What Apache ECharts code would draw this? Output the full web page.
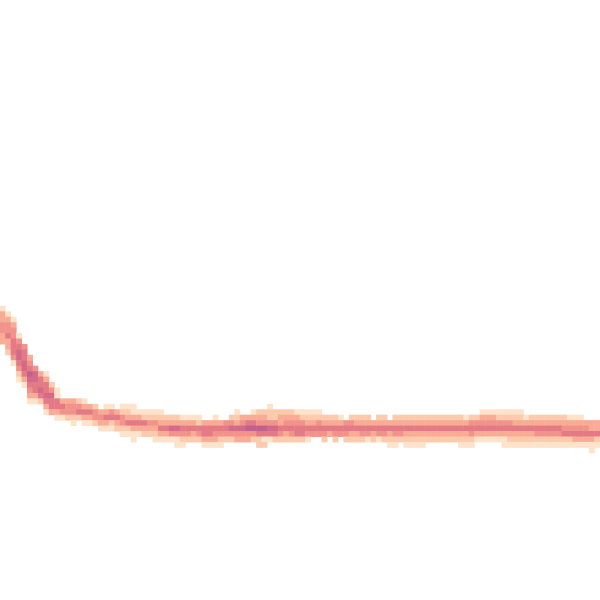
<!DOCTYPE html>
<html>
<head>
<meta charset="utf-8">
<script src="https://cdn.jsdelivr.net/npm/echarts@6/dist/echarts.min.js"></script>
<style>html,body{margin:0;padding:0;background:#fff;}#chart{width:600px;height:600px;}</style>
</head>
<body>
<div id="chart"></div>
<script>
// Density bins: for each column, first occupied row (from top) and the density levels down the column
const colStart = [
  56,57,58,61,63,65,67,68,68,70,
  71,73,73,73,73,73,74,74,75,74,
  74,75,74,74,74,75,75,75,75,75,
  76,76,76,76,76,76,76,77,77,76,
  77,77,76,75,76,76,75,75,75,74,
  75,75,75,75,75,75,75,75,75,76,
  76,76,76,77,76,76,76,76,77,76,
  76,77,76,76,76,76,76,76,76,76,
  76,76,76,76,76,76,76,76,75,75,
  75,75,75,75,75,75,76,76,76,76,
  76,76,76,76,76,76,76,77,77,77
];
const colLevels = [
  "1334433","13445332","134455541","145665421","45566531","345765431","4665531","355652","13556531","246553",
  "115531","3541","3442","34421","2452","13531","3531","2442","3431","13531",
  "14521","3532","124421","123521","1135311","13531","12532","12432","124321","123531",
  "23531","23641","236411","135421","13542","13532","12542","35531","35531","135431",
  "35421","4542","24642","123643","34643","35743","135742","2347522","2347512","1224651",
  "224652","233542","234532","234542","134552","124552","123541","12354","12454","23542",
  "2353","23542","1354","4542","24532","23532","23542","23541","3532","23541",
  "23542","35321","235421","23542","235321","235321","235321","235321","23532","23532",
  "23532","23532","23532","23532","235321","135321","245421","24531","134531","134531",
  "134531","124531","1245311","1245321","1235321","1235321","135321","235321","235421","235421",
  "235421","235421","235421","234521","134521","134531","134531","34531","335311","33521"
];
const levelColors = ["#fee3cb","#fccaad","#f9ac95","#f2938b","#e47a86","#d26a88","#c0608c"];
const nCols = 110, nRows = 110;

const xCats = [], yCats = [];
for (let i = 0; i < nCols; i++) xCats.push(i);
for (let i = 0; i < nRows; i++) yCats.push(i);

const data = [];
colLevels.forEach((s, c) => {
  for (let k = 0; k < s.length; k++) {
    const v = +s[k];
    if (v > 0) data.push([c, colStart[c] + k, v]);
  }
});

const chart = echarts.init(document.getElementById('chart'), null, {renderer: 'canvas'});
chart.setOption({
  backgroundColor: '#ffffff',
  animation: false,
  grid: {left: 0, top: 1.3, width: 600, height: 600, containLabel: false},
  xAxis: {type: 'category', data: xCats, show: false, boundaryGap: true},
  yAxis: {type: 'category', data: yCats, show: false, inverse: true, boundaryGap: true},
  visualMap: {
    type: 'piecewise', show: false, dimension: 2,
    pieces: levelColors.map((col, i) => ({value: i + 1, color: col}))
  },
  series: [{
    type: 'heatmap',
    data: data,
    itemStyle: {borderWidth: 0},
    emphasis: {disabled: true}
  }]
});
</script>
</body>
</html>
